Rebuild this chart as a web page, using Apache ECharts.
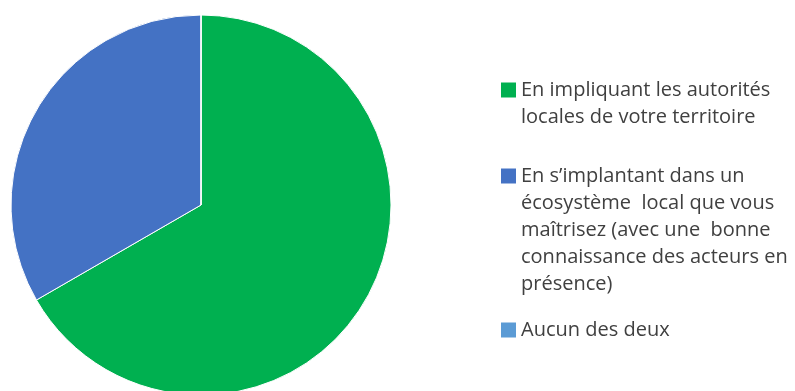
<!DOCTYPE html>
<html>
<head>
<meta charset="utf-8">
<script src="https://cdn.jsdelivr.net/npm/echarts@6/dist/echarts.min.js"></script>
<style>
  html, body { margin: 0; padding: 0; background: #ffffff; }
  #chart { width: 795px; height: 391px; }
</style>
</head>
<body>
<div id="chart"></div>
<script>
// Survey answers: how the company anchors itself locally
const categories = [
  'En impliquant les autorités locales de votre territoire',
  'En s\u2019implantant dans un écosystème local que vous maîtrisez (avec une bonne connaissance des acteurs en présence)',
  'Aucun des deux'
];
// Legend text as wrapped in the key
const legendLines = [
  ['En impliquant les autorités', 'locales de votre territoire'],
  ['En s\u2019implantant dans un', 'écosystème  local que vous', 'maîtrisez (avec une  bonne', 'connaissance des acteurs en', 'présence)'],
  ['Aucun des deux']
];
const values = [2, 1, 0];
const colors = ['#00B050', '#4472C4', '#5B9BD5'];

const LINE_H = 27;
const FONT = '"Open Sans", Lato, sans-serif';
const FONT_SIZE = 20;
// vertical centre of each key marker
const markerCenters = [90, 176, 330];

const legends = categories.map(function (name, i) {
  const n = legendLines[i].length;
  // the key text is centred on its marker, so blank lines are put in front
  // to bring the first text line level with the marker
  const blanks = new Array(n - 1).fill('{s| }');
  const lines = legendLines[i].map(function (t) { return '{t|' + t + '}'; });
  return {
    orient: 'vertical',
    left: 501,
    top: markerCenters[i] - (2 * n - 1) * LINE_H / 2,
    padding: 0,
    icon: 'rect',
    itemWidth: 15,
    itemHeight: 15,
    itemStyle: { borderWidth: 0 },
    selectedMode: false,
    data: [name],
    formatter: function () { return blanks.concat(lines).join('\n'); },
    textStyle: {
      fontFamily: FONT,
      fontSize: FONT_SIZE,
      color: '#404040',
      lineHeight: LINE_H,
      rich: {
        s: { lineHeight: LINE_H, fontFamily: FONT, fontSize: FONT_SIZE },
        t: { lineHeight: LINE_H, fontFamily: FONT, fontSize: FONT_SIZE, color: '#404040' }
      }
    }
  };
});

const chart = echarts.init(document.getElementById('chart'), null, { renderer: 'canvas' });
chart.setOption({
  animation: false,
  backgroundColor: '#ffffff',
  color: colors,
  legend: legends,
  series: [{
    type: 'pie',
    center: [201, 205],
    radius: 190,
    startAngle: 90,
    clockwise: true,
    label: { show: false },
    labelLine: { show: false },
    emphasis: { disabled: true },
    itemStyle: { borderColor: '#ffffff', borderWidth: 1 },
    data: categories.map(function (name, i) {
      return { name: name, value: values[i] };
    })
  }]
});
</script>
</body>
</html>
